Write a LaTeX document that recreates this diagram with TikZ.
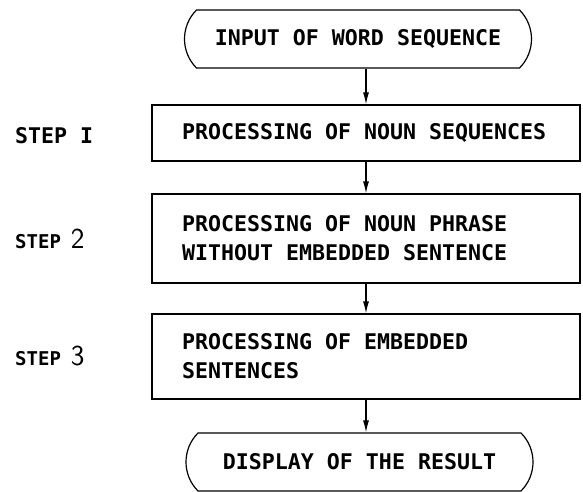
\documentclass[tikz,border=0pt]{standalone}
\usepackage{fontspec}
\setmonofont{DejaVu Sans Mono}
\usetikzlibrary{shapes.misc,arrows.meta}

\newcommand{\boxfont}{\ttfamily\bfseries\fontsize{21.6}{29}\selectfont}
\newcommand{\stepword}{{\ttfamily\bfseries\fontsize{19}{19}\selectfont STEP}}
\newcommand{\bignum}[1]{{\sffamily\fontsize{29}{29}\selectfont #1}}

\tikzset{
	term/.style={draw, rounded rectangle, rounded rectangle arc length=90, line width=1.2pt, minimum width=347pt, minimum height=58pt, inner sep=0pt, font=\boxfont},
	proc/.style={draw, line width=1.2pt, text width=368pt, inner xsep=30pt, inner ysep=0pt, align=flush left, font=\boxfont},
	steplabel/.style={anchor=base west, inner sep=0pt},
	arr/.style={-{Latex[length=12pt,width=6pt]}, line width=1.2pt}
}

\begin{document}
\begin{tikzpicture}[x=1pt, y=-1pt]
		\useasboundingbox (0, 0) rectangle (583, 492);
		
		\node[term] (in) at (358, 39) {INPUT OF WORD SEQUENCE};
		\node[proc, minimum height=56pt] (b1) at (366, 133) {PROCESSING OF NOUN SEQUENCES};
		\node[proc, minimum height=89pt] (b2) at (366, 238.5) {PROCESSING OF NOUN PHRASE\\WITHOUT EMBEDDED SENTENCE};
		\node[proc, minimum height=85pt] (b3) at (366, 356.5) {PROCESSING OF EMBEDDED\\SENTENCES};
		\node[term] (out) at (359.5, 462) {DISPLAY OF THE RESULT};
		
		\node[steplabel] (s1) at (15, 143) {\boxfont STEP I};
		\node[steplabel] (s2) at (15, 248) {\stepword\hspace{10pt}\bignum{2}};
		\node[steplabel] (s3) at (15, 365) {\stepword\hspace{10pt}\bignum{3}};
		
		\draw[arr] (in.south -| b1.north) -- (b1.north);
		\draw[arr] (b1.south) -- (b2.north);
		\draw[arr] (b2.south) -- (b3.north);
		\draw[arr] (b3.south) -- (b3.south |- out.north);
	\end{tikzpicture}
\end{document}
